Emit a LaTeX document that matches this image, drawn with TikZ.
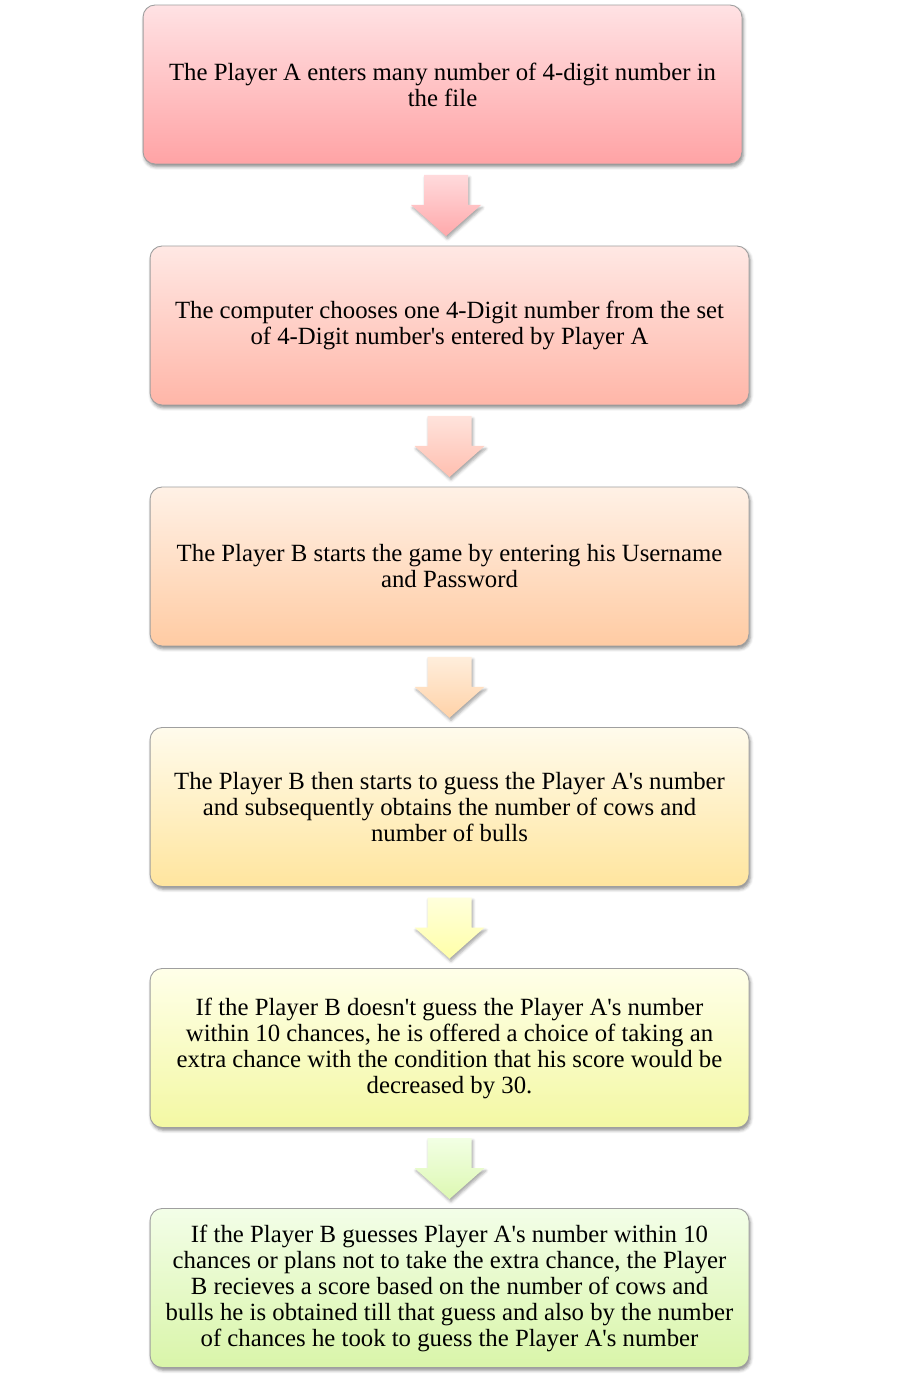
\documentclass[tikz,border=0pt]{standalone}
\usepackage{fontspec}
\setmainfont{Liberation Serif}[Ligatures=TeXOff]
\usetikzlibrary{positioning,calc,shadows.blur}
\definecolor{r1top}{HTML}{FFE2E4}\definecolor{r1bot}{HTML}{FFA3A5}
\definecolor{r2top}{HTML}{FFE8E4}\definecolor{r2bot}{HTML}{FFB6A8}
\definecolor{r3top}{HTML}{FFF1E6}\definecolor{r3bot}{HTML}{FFCBA3}
\definecolor{r4top}{HTML}{FFFBEC}\definecolor{r4bot}{HTML}{FFE59E}
\definecolor{r5top}{HTML}{FFFFE9}\definecolor{r5bot}{HTML}{F3F8A3}
\definecolor{r6top}{HTML}{F3FEE8}\definecolor{r6bot}{HTML}{D9F5A9}
\definecolor{a1top}{HTML}{FFDADC}\definecolor{a1bot}{HTML}{FFA9AB}
\definecolor{a2top}{HTML}{FFE3DC}\definecolor{a2bot}{HTML}{FFBFB0}
\definecolor{a3top}{HTML}{FFEEDC}\definecolor{a3bot}{HTML}{FFD2A8}
\definecolor{a4top}{HTML}{FFFFDC}\definecolor{a4bot}{HTML}{FFFFA8}
\definecolor{a5top}{HTML}{F2FFE4}\definecolor{a5bot}{HTML}{DDF8B2}
\newcommand{\blockarrow}[3]{% centre, top colour, bottom colour
  \path[top color=#2,bottom color=#3,arrowshadow]
    ($(#1)+(-22,-30)$)--++(44,0)--++(0,30)--++(13,0)--($(#1)+(0,31)$)
    --($(#1)+(-35,0)$)--++(13,0)--cycle;}
\begin{document}
\begin{tikzpicture}[x=0.02cm,y=-0.02cm,
	box/.style={rectangle,rounded corners=0.24cm,draw=gray!75,line width=0.5pt,
		minimum width=11.98cm,minimum height=3.18cm,align=center,
		font=\fontsize{14.1}{14.8}\selectfont,
		blur shadow={shadow xshift=0.8pt,shadow yshift=-1.6pt,shadow blur radius=1.8pt,shadow opacity=45}},
	arrowshadow/.style={blur shadow={shadow xshift=0.8pt,shadow yshift=-1.6pt,shadow blur radius=1.6pt,shadow opacity=35}}]
	\useasboundingbox(0,0)rectangle(899,1381);
	\node(n1)at(442.5,84.5)[box,top color=r1top,bottom color=r1bot]
		{The Player A enters many number of 4-digit number in\\the file};
	\node(n2)at(449.5,325.5)[box,top color=r2top,bottom color=r2bot]
		{The computer chooses one 4-Digit number from the set\\of 4-Digit number's entered by Player A};
	\node(n3)at(449.5,566.5)[box,top color=r3top,bottom color=r3bot]
		{The Player B starts the game by entering his Username\\and Password};
	\node(n4)at(449.5,807)[box,top color=r4top,bottom color=r4bot]
		{The Player B then starts to guess the Player A's number\\and subsequently obtains the number of cows and\\number of bulls};
	\node(n5)at(449.5,1048)[box,top color=r5top,bottom color=r5bot]
		{If the Player B doesn't guess the Player A's number\\within 10 chances, he is offered a choice of taking an\\extra chance with the condition that his score would be\\decreased by 30.};
	\node(n6)at(449.5,1288)[box,top color=r6top,bottom color=r6bot]
		{If the Player B guesses Player A's number within 10\\chances or plans not to take the extra chance, the Player\\B recieves a score based on the number of cows and\\bulls he is obtained till that guess and also by the number\\of chances he took to guess the Player A's number};
	% arrows between the steps
	\coordinate(m1)at($(n1.south)!.5!(n2.north)$);
	\coordinate(m2)at($(n2.south)!.5!(n3.north)$);
	\coordinate(m3)at($(n3.south)!.5!(n4.north)$);
	\coordinate(m4)at($(n4.south)!.5!(n5.north)$);
	\coordinate(m5)at($(n5.south)!.5!(n6.north)$);
	\blockarrow{m1}{a1top}{a1bot}
	\blockarrow{m2}{a2top}{a2bot}
	\blockarrow{m3}{a3top}{a3bot}
	\blockarrow{m4}{a4top}{a4bot}
	\blockarrow{m5}{a5top}{a5bot}
\end{tikzpicture}
\end{document}
